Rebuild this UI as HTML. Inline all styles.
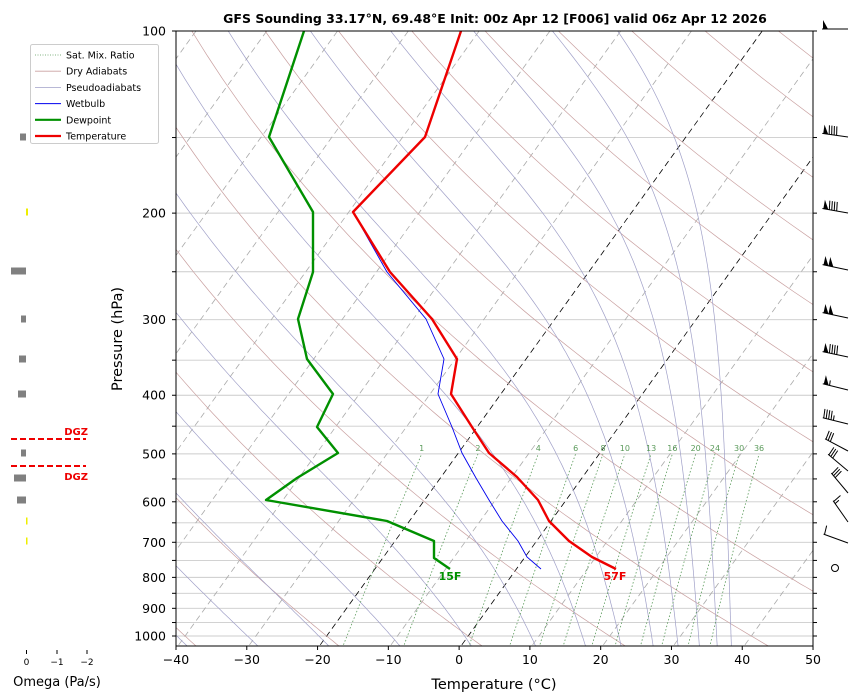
<!DOCTYPE html>
<html><head><meta charset="utf-8">
<style>
html,body{margin:0;padding:0;background:#fff;}
svg{display:block;font-family:"DejaVu Sans","Liberation Sans",sans-serif;}
</style></head>
<body>
<svg id="s" width="857" height="697" xmlns="http://www.w3.org/2000/svg">
<defs><clipPath id="c"><rect x="176" y="31" width="637" height="615"/></clipPath></defs>
<g id="bg" clip-path="url(#c)"></g>
<g id="fg"></g>
</svg>
<script>
var NS="http://www.w3.org/2000/svg";
var bg=document.getElementById('bg'),fg=document.getElementById('fg');
function Y(p){return 31+262.75*Math.log(p/100);}
function X(T,p){return 461+7.078*T+0.72*(646-Y(p));}
function el(par,tag,a,txt){var e=document.createElementNS(NS,tag);for(var k in a)e.setAttribute(k,a[k]);if(txt!==undefined)e.textContent=txt;par.appendChild(e);return e;}
function poly(par,pts,a){a.points=pts.map(function(q){return q[0].toFixed(1)+','+q[1].toFixed(1)}).join(' ');a.fill='none';el(par,'polyline',a);}
var levs=[100,150,200,250,300,350,400,450,500,550,600,650,700,750,800,850,900,950,1000];
levs.forEach(function(p){el(bg,'line',{x1:176,x2:813,y1:Y(p),y2:Y(p),stroke:'#cccccc','stroke-width':0.9});});
for(var T=-140;T<=50;T+=10){var blk=(T==0||T==-20);
 el(bg,'line',{x1:X(T,1100),y1:Y(1100),x2:X(T,90),y2:Y(90),stroke:blk?'#000':'#aaaaaa','stroke-width':0.8,'stroke-dasharray':'6,4'});}
var P=[];for(var p=1100;p>=90;p-=10)P.push(p);
for(var th=193.15;th<=560;th+=20){poly(bg,P.map(function(p){var t=th*Math.pow(p/1000,0.2857)-273.15;return [X(t,p),Y(p)];}),{stroke:'#c9a0a0','stroke-width':0.7});}
function es(t){return 6.112*Math.exp(17.67*t/(t+243.5));}
function dTdp(Tk,p){var t=Tk-273.15,e=es(t),rs=0.622*e/(p-e),Rd=287,Lv=2.5e6,Cp=1005;
 return (1/p)*(Rd*Tk+Lv*rs)/(Cp+Lv*Lv*rs*0.622/(Rd*Tk*Tk));}
[-48,-38,-28,-18,-8,2,11,18,23,27.5,31,34,36.5,38.5].forEach(function(t0){var pts=[];var Tk=t0+273.15;
 pts.push([X(t0,1100),Y(1100)]);
 for(var p=1050;p>=100;p-=5){pts.push([X(Tk-273.15,p),Y(p)]);Tk-=dTdp(Tk,p)*5;}
 poly(bg,pts,{stroke:'#a0a0c8','stroke-width':0.7});});
var ws=[1,2,4,6,8,10,13,16,20,24,30,36];
ws.forEach(function(w){var pts=[];for(var p=1100;p>=500;p-=20){var e=w*p/(622+w),l=Math.log(e/6.112),td=243.5*l/(17.67-l);pts.push([X(td,p),Y(p)]);}
 poly(bg,pts,{stroke:'#5a9a5a','stroke-width':0.8,'stroke-dasharray':'1.5,2'});
 var e=w*500/(622+w),l=Math.log(e/6.112),td=243.5*l/(17.67-l);
 el(bg,'text',{x:X(td,500),y:451,'font-size':8,fill:'#5a9a5a','text-anchor':'middle'},String(w));});
poly(fg,[[541,569],[527,557],[518,541],[502,521],[489,500],[476,478],[462,453],[452,427],[438,394],[444,359],[426,319],[387,272],[353,212],[425,137],[461,31]],{stroke:'#0000ee','stroke-width':0.9});
poly(fg,[[450,569],[434,558],[434,541],[387,521],[266,500],[297,478],[338,453],[317,427],[333,394],[307,359],[298,319],[313,272],[313,212],[269,137],[304,31]],{stroke:'#009000','stroke-width':2.4,'stroke-linejoin':'round'});
poly(fg,[[616,569],[592,557],[569,541],[549,521],[538,500],[517,477],[489,453],[472,427],[451,394],[457,359],[432,319],[390,272],[353,212],[425,137],[461,31]],{stroke:'#ee0000','stroke-width':2.4,'stroke-linejoin':'round'});
el(fg,'text',{x:450,y:580,'font-size':11,'font-weight':'bold',fill:'#009000','text-anchor':'middle'},'15F');
el(fg,'text',{x:615,y:580,'font-size':11,'font-weight':'bold',fill:'#ee0000','text-anchor':'middle'},'57F');
el(fg,'rect',{x:176,y:31,width:637,height:615,fill:'none',stroke:'#000','stroke-width':1});
for(var T=-40;T<=50;T+=10){var x=176+(T+40)*7.078;el(fg,'line',{x1:x,x2:x,y1:646,y2:650,stroke:'#000'});
 el(fg,'text',{x:x,y:664,'font-size':12.5,'text-anchor':'middle'},(T<0?'\u2212'+(-T):String(T)));}
levs.forEach(function(p){var y=Y(p);el(fg,'line',{x1:172,x2:176,y1:y,y2:y,stroke:'#000'});el(fg,'line',{x1:813,x2:817,y1:y,y2:y,stroke:'#000'});
 if(p%100==0)el(fg,'text',{x:166,y:y+4.5,'font-size':12.5,'text-anchor':'end'},String(p));});
el(fg,'text',{x:495,y:23,'font-size':12.5,'font-weight':'bold','text-anchor':'middle'},'GFS Sounding 33.17\u00b0N, 69.48\u00b0E Init: 00z Apr 12 [F006] valid 06z Apr 12 2026');
el(fg,'text',{x:494,y:689,'font-size':14.5,'text-anchor':'middle'},'Temperature (\u00b0C)');
el(fg,'text',{x:122,y:339,'font-size':14.5,'text-anchor':'middle',transform:'rotate(-90 122 339)'},'Pressure (hPa)');
var lg=el(fg,'g',{});
el(lg,'rect',{x:30.5,y:44.5,width:128,height:99,fill:'#fff',stroke:'#ccc',rx:2});
var items=[['Sat. Mix. Ratio','#5a9a5a',0.8,'1,1.5'],['Dry Adiabats','#c9a0a0',0.8,''],['Pseudoadiabats','#a0a0c8',0.8,''],['Wetbulb','#0000ee',1,''],['Dewpoint','#009000',2.2,''],['Temperature','#ee0000',2.2,'']];
items.forEach(function(it,i){var y=55+i*16.2;var a={x1:35,x2:61,y1:y,y2:y,stroke:it[1],'stroke-width':it[2]};if(it[3])a['stroke-dasharray']=it[3];el(lg,'line',a);
 el(lg,'text',{x:66,y:y+3.5,'font-size':9.5},it[0]);});
[[137,20,6,'#808080'],[271,11,15,'#808080'],[319,21,5,'#808080'],[359,19,7,'#808080'],[394,18,8,'#808080'],[453,21,5,'#808080'],[478,14,12,'#808080'],[500,17,9,'#808080'],[212,26,2,'#eeee00'],[521,26,1.5,'#eeee00'],[541,26,1.5,'#eeee00']].forEach(function(b){el(fg,'rect',{x:b[1],y:b[0]-3.5,width:b[2],height:7,fill:b[3]});});
el(fg,'line',{x1:11,x2:86,y1:439,y2:439,stroke:'#ee0000','stroke-width':2,'stroke-dasharray':'6,3'});
el(fg,'line',{x1:11,x2:86,y1:466,y2:466,stroke:'#ee0000','stroke-width':2,'stroke-dasharray':'6,3'});
el(fg,'text',{x:88,y:435,'font-size':10,'font-weight':'bold',fill:'#ee0000','text-anchor':'end'},'DGZ');
el(fg,'text',{x:88,y:480,'font-size':10,'font-weight':'bold',fill:'#ee0000','text-anchor':'end'},'DGZ');
[[26.5,'0'],[57,'\u22121'],[87,'\u22122']].forEach(function(t){el(fg,'line',{x1:t[0],x2:t[0],y1:650,y2:654,stroke:'#000'});el(fg,'text',{x:t[0],y:665,'font-size':9,'text-anchor':'middle'},t[1]);});
el(fg,'text',{x:57,y:686,'font-size':13,'text-anchor':'middle'},'Omega (Pa/s)');
function barb(y,flags,full,half,ang){var g=el(fg,'g',{transform:'rotate('+ang+' 848 '+y+')'});
 el(g,'line',{x1:822,y1:y,x2:848,y2:y,stroke:'#000','stroke-width':1});
 var x=823;for(var i=0;i<flags;i++){el(g,'polygon',{points:x+','+y+' '+(x+5)+','+y+' '+x+','+(y-9),fill:'#000'});x+=5;}
 if(flags)x+=1;for(var i=0;i<full;i++){el(g,'line',{x1:x,y1:y,x2:x-1,y2:y-9,stroke:'#000'});x+=2.5;}
 for(var i=0;i<half;i++){el(g,'line',{x1:x,y1:y,x2:x-0.5,y2:y-5,stroke:'#000'});}}
barb(29,1,0,0,0);barb(137,1,4,0,8);barb(213,1,4,0,10);barb(270,2,0,0,12);barb(318,2,0,0,12);barb(357,1,4,0,12);barb(390,1,0,1,14);barb(424,0,4,1,14);barb(451,0,3,0,28);barb(471,0,3,0,40);barb(493,0,3,0,50);barb(522,0,1,1,55);barb(543,0,1,0,20);
el(fg,'circle',{cx:835,cy:568,r:3.5,fill:'none',stroke:'#000'});
</script>
</body></html>
